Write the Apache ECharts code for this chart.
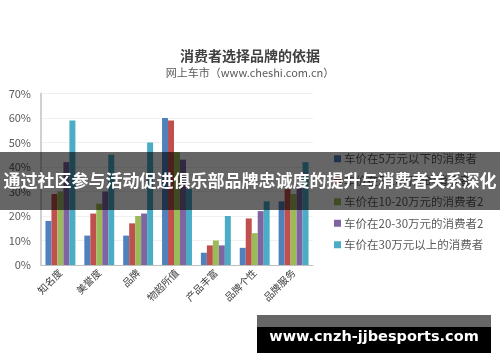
<!DOCTYPE html>
<html>
<head>
<meta charset="utf-8">
<script src="https://cdn.jsdelivr.net/npm/echarts@6/dist/echarts.min.js"></script>
<style>html,body{margin:0;padding:0;background:#fff}#c{width:500px;height:362px}</style>
</head>
<body>
<div id="c"></div>
<script>
const categories = ['知名度', '美誉度', '品牌', '物超所值', '产品丰富', '品牌个性', '品牌服务'];
const seriesNames = ['车价在5万元以下的消费者', '车价在5-10万元的消费者', '车价在10-20万元的消费者2', '车价在20-30万元的消费者2', '车价在30万元以上的消费者'];
const below5 = [18, 12, 12, 60, 5, 7, 26];
const from5to10 = [29, 21, 17, 59, 8, 19, 31];
const from10to20 = [30, 25, 20, 46, 10, 13, 29];
const from20to30 = [42, 30, 21, 43, 8, 22, 32];
const above30 = [59, 45, 50, 31, 20, 26, 42];
const yTicks = [0, 10, 20, 30, 40, 50, 60, 70];
const titleText = '消费者选择品牌的依据';
const subText = '网上车市（www.cheshi.com.cn）';
const bannerText = '通过社区参与活动促进俱乐部品牌忠诚度的提升与消费者关系深化';
const watermarkText = 'www.cnzh-jjbesports.com';

const colors = ['#4F81BD', '#C0504D', '#9BBB59', '#8064A2', '#4BACC6'];
const values = [below5, from5to10, from10to20, from20to30, above30];
const font = '"Noto Sans CJK SC", "Noto Sans", sans-serif';

const chart = echarts.init(document.getElementById('c'), null, {renderer: 'canvas'});
chart.setOption({
  animation: false,
  color: colors,
  title: {
    text: titleText,
    subtext: subText,
    left: 'center',
    top: 44,
    itemGap: 4,
    textStyle: {fontSize: 14, fontWeight: 'bold', color: '#404040', fontFamily: font},
    subtextStyle: {fontSize: 11, color: '#595959', fontFamily: font}
  },
  legend: {
    orient: 'vertical',
    left: 329,
    top: 148,
    itemWidth: 7,
    itemHeight: 7,
    itemGap: 10,
    icon: 'rect',
    data: seriesNames,
    textStyle: {fontSize: 11.5, color: '#595959', fontFamily: font, padding: [0, 0, 0, -2]}
  },
  grid: {left: 41, right: 187, top: 93.5, bottom: 97, containLabel: false},
  xAxis: {
    type: 'category',
    data: categories,
    axisLine: {lineStyle: {color: '#BFBFBF'}},
    axisTick: {show: false},
    axisLabel: {rotate: 45, interval: 0, fontSize: 10, color: '#404040', fontFamily: font, margin: 6}
  },
  yAxis: {
    type: 'value',
    min: yTicks[0],
    max: yTicks[yTicks.length - 1],
    interval: 10,
    axisLine: {show: true, lineStyle: {color: '#D0D0D0', width: 2}},
    axisTick: {show: false},
    splitLine: {lineStyle: {color: '#F0F0F0'}},
    axisLabel: {formatter: '{value}%', fontSize: 11, color: '#595959', fontFamily: font, margin: 10}
  },
  series: seriesNames.map((n, i) => ({
    name: n,
    type: 'bar',
    data: values[i],
    barGap: '0%',
    barCategoryGap: '23%'
  })),
  graphic: [
    {type: 'rect', z: 100, shape: {x: 0, y: 152, width: 500, height: 58}, style: {fill: 'rgba(0,0,0,0.6)'}},
    {type: 'text', z: 101, x: 250, y: 181, style: {text: bannerText, fill: '#fff', font: 'bold 17px "Noto Sans CJK SC", sans-serif', textAlign: 'center', textVerticalAlign: 'middle'}},
    {type: 'rect', z: 100, shape: {x: 257, y: 315, width: 234, height: 12}, style: {fill: 'rgba(0,0,0,0.6)'}},
    {type: 'rect', z: 100, shape: {x: 257, y: 327, width: 234, height: 26}, style: {fill: '#000'}},
    {type: 'text', z: 101, x: 374, y: 337, style: {text: watermarkText, fill: '#fff', font: 'bold 14.5px "DejaVu Sans", sans-serif', textAlign: 'center', textVerticalAlign: 'middle'}}
  ]
});
</script>
</body>
</html>
